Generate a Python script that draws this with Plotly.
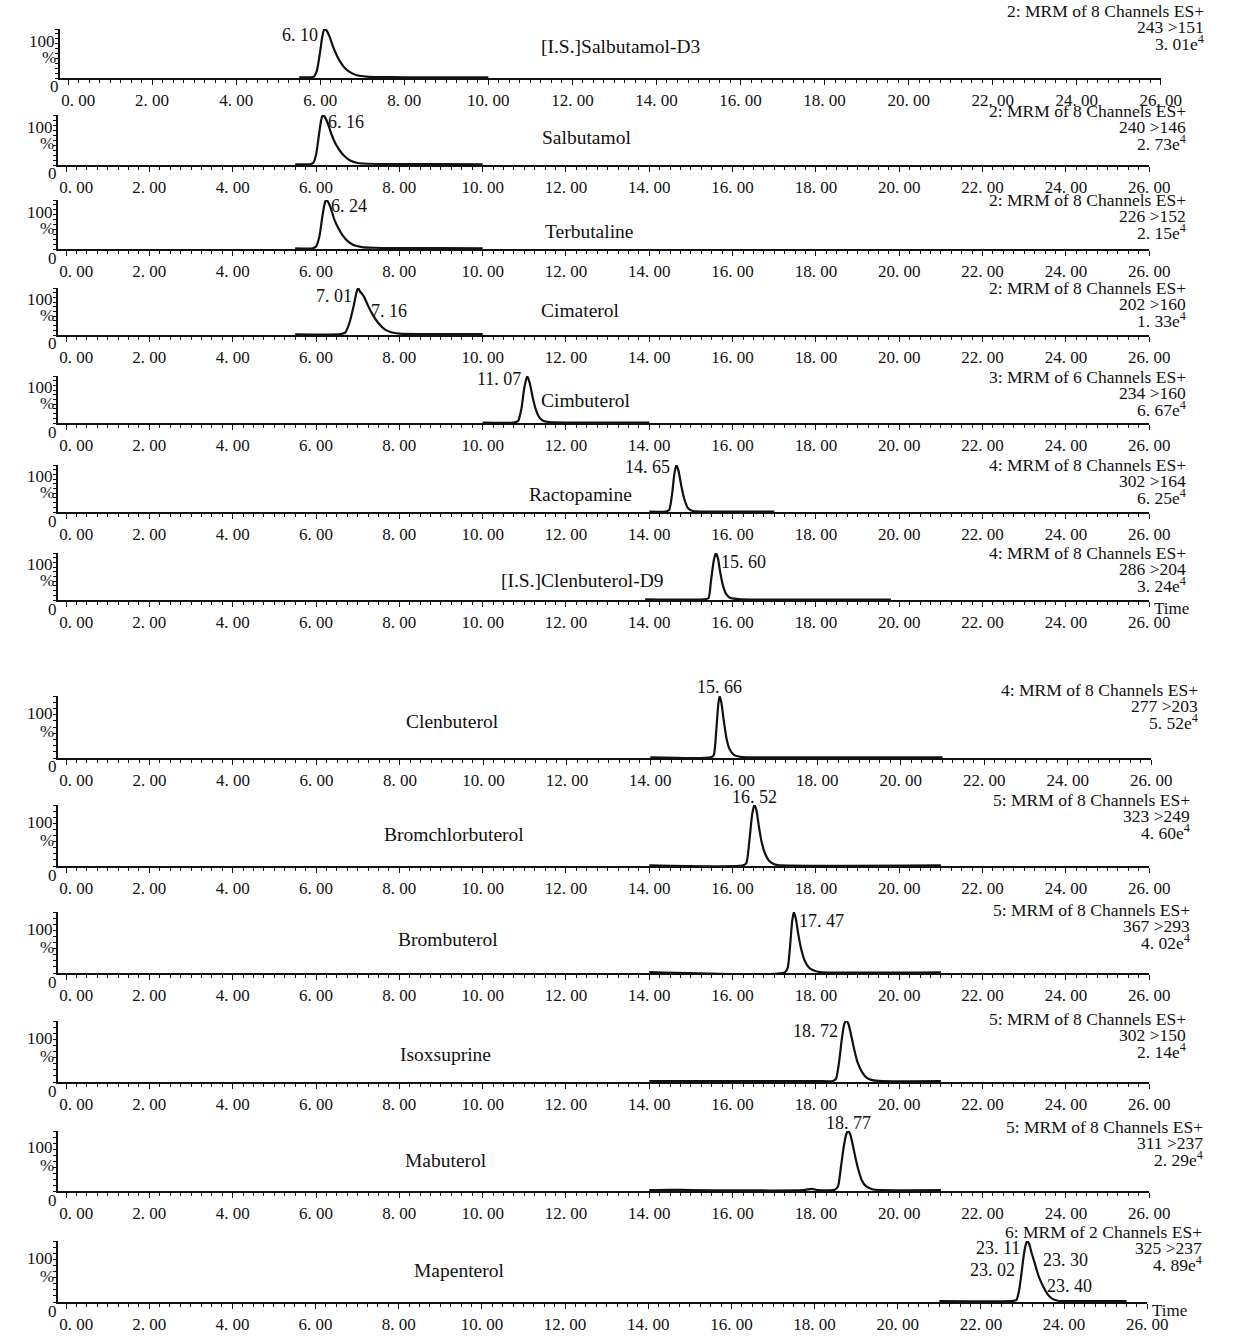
import plotly.graph_objects as go

# ---------------- data ----------------
panel_names = ["[I.S.]Salbutamol-D3", "Salbutamol", "Terbutaline", "Cimaterol", "Cimbuterol",
               "Ractopamine", "[I.S.]Clenbuterol-D9", "Clenbuterol", "Bromchlorbuterol",
               "Brombuterol", "Isoxsuprine", "Mabuterol", "Mapenterol"]
mrm_functions = ["2: MRM of 8 Channels ES+", "2: MRM of 8 Channels ES+", "2: MRM of 8 Channels ES+",
                 "2: MRM of 8 Channels ES+", "3: MRM of 6 Channels ES+", "4: MRM of 8 Channels ES+",
                 "4: MRM of 8 Channels ES+", "4: MRM of 8 Channels ES+", "5: MRM of 8 Channels ES+",
                 "5: MRM of 8 Channels ES+", "5: MRM of 8 Channels ES+", "5: MRM of 8 Channels ES+",
                 "6: MRM of 2 Channels ES+"]
transitions = ["243 >151", "240 >146", "226 >152", "202 >160", "234 >160", "302 >164", "286 >204",
               "277 >203", "323 >249", "367 >293", "302 >150", "311 >237", "325 >237"]
max_intensity = [3.01, 2.73, 2.15, 1.33, 6.67, 6.25, 3.24, 5.52, 4.60, 4.02, 2.14, 2.29, 4.89]

x_ticks = [0, 2, 4, 6, 8, 10, 12, 14, 16, 18, 20, 22, 24, 26]

p1_t = [5.5, 5.75, 5.85, 5.92, 6.0, 6.05, 6.10, 6.15, 6.22, 6.3, 6.4, 6.5, 6.6, 6.75, 6.9, 7.1, 7.4, 8.0, 9.0, 10.0]
p1_y = [1.5, 1.5, 3, 15, 55, 85, 100, 97, 85, 65, 45, 30, 19, 10, 5, 3, 2, 1.5, 1.5, 1.5]
p2_t = [5.5, 5.85, 5.93, 6.0, 6.07, 6.12, 6.16, 6.21, 6.28, 6.36, 6.46, 6.56, 6.68, 6.82, 7.0, 7.25, 8.0, 9.0, 10.0]
p2_y = [1.5, 1.5, 4, 20, 60, 88, 100, 96, 84, 64, 44, 30, 18, 9, 4, 2.5, 2, 2, 1.5]
p3_t = [5.5, 5.92, 6.0, 6.08, 6.15, 6.2, 6.24, 6.29, 6.36, 6.44, 6.54, 6.64, 6.76, 6.9, 7.1, 7.4, 8.0, 9.0, 10.0]
p3_y = [1.5, 1.5, 5, 25, 65, 90, 100, 96, 82, 60, 42, 28, 16, 8, 4, 2.5, 2, 2, 1.5]
p4_t = [5.5, 6.6, 6.7, 6.8, 6.9, 6.97, 7.01, 7.06, 7.1, 7.16, 7.25, 7.35, 7.5, 7.65, 7.8, 8.0, 8.5, 9.5, 10.0]
p4_y = [1.5, 2, 5, 25, 60, 90, 100, 92, 88, 80, 62, 45, 25, 12, 6, 3, 2, 2, 2]
p5_t = [10.0, 10.75, 10.85, 10.93, 11.0, 11.07, 11.13, 11.2, 11.28, 11.36, 11.45, 11.6, 12.0, 14.0]
p5_y = [1, 1, 4, 30, 75, 100, 85, 55, 28, 12, 5, 2, 1, 1]
p6_t = [14.0, 14.4, 14.48, 14.55, 14.6, 14.65, 14.7, 14.77, 14.85, 14.93, 15.05, 15.5, 17.0]
p6_y = [1, 1, 5, 40, 80, 100, 88, 55, 25, 8, 2, 1, 1]
p7_t = [13.9, 15.3, 15.42, 15.48, 15.55, 15.6, 15.65, 15.7, 15.77, 15.85, 15.95, 16.2, 19.8]
p7_y = [1.5, 1.5, 4, 40, 85, 100, 88, 60, 30, 12, 4, 1.5, 1]
p8_t = [14.0, 15.45, 15.52, 15.58, 15.63, 15.66, 15.7, 15.76, 15.83, 15.9, 16.0, 16.15, 16.5, 21.0]
p8_y = [1, 1, 5, 45, 88, 100, 90, 60, 30, 14, 5, 2, 1, 1]
p9_t = [14.0, 16.25, 16.33, 16.4, 16.47, 16.52, 16.57, 16.63, 16.7, 16.78, 16.87, 17.0, 17.2, 21.0]
p9_y = [1, 1, 5, 40, 85, 100, 92, 65, 38, 20, 9, 3, 1, 1]
p10_t = [14.0, 17.25, 17.32, 17.38, 17.43, 17.47, 17.52, 17.58, 17.65, 17.73, 17.83, 17.95, 18.1, 21.0]
p10_y = [1.5, 1, 8, 45, 85, 100, 88, 62, 38, 20, 9, 4, 1.5, 1]
p11_t = [14.0, 18.0, 18.4, 18.48, 18.55, 18.62, 18.68, 18.73, 18.78, 18.85, 18.93, 19.0, 19.1, 19.2, 19.35, 19.6, 21.0]
p11_y = [1.5, 1.5, 1.5, 5, 30, 70, 95, 100, 95, 75, 50, 32, 17, 8, 3, 1.5, 1.5]
p12_t = [14.0, 14.5, 15.0, 17.7, 17.9, 18.05, 18.45, 18.53, 18.6, 18.67, 18.73, 18.77, 18.82, 18.88, 18.95, 19.02, 19.1, 19.2, 19.35, 19.6, 21.0]
p12_y = [1.5, 2, 1.5, 1.5, 3.5, 1.5, 2, 8, 40, 75, 95, 100, 95, 78, 55, 35, 18, 8, 3, 1.5, 1.5]
p13_t = [21.0, 22.7, 22.85, 22.92, 22.98, 23.02, 23.07, 23.11, 23.16, 23.22, 23.30, 23.36, 23.40, 23.5, 23.6, 23.7, 23.85, 24.2, 25.5]
p13_y = [1.5, 1.5, 3, 20, 50, 72, 92, 100, 95, 80, 62, 48, 40, 25, 13, 6, 2, 1.5, 1.5]

traces_t = [p1_t, p2_t, p3_t, p4_t, p5_t, p6_t, p7_t, p8_t, p9_t, p10_t, p11_t, p12_t, p13_t]
traces_y = [p1_y, p2_y, p3_y, p4_y, p5_y, p6_y, p7_y, p8_y, p9_y, p10_y, p11_y, p12_y, p13_y]

# peak labels: (panel index, retention time, intensity at label point)
peak_label_panel = [0, 1, 2, 3, 3, 4, 5, 6, 7, 8, 9, 10, 11, 12, 12, 12, 12]
peak_label_time = [6.10, 6.16, 6.24, 7.01, 7.16, 11.07, 14.65, 15.60, 15.66, 16.52, 17.47, 18.72, 18.77, 23.11, 23.02, 23.30, 23.40]
peak_label_int = [100, 100, 100, 100, 80, 100, 100, 100, 100, 100, 100, 100, 100, 100, 72, 62, 40]

# ---------------- layout geometry (pixels) ----------------
W, H = 1237, 1338


def fx(px):
    return px / W


def fy(py):
    return 1 - py / H


base_px = [78, 165, 249, 335, 423, 512, 600, 758, 866, 973, 1082, 1191, 1302]
top_px = [29, 115, 200, 288, 376, 465, 553, 696, 805, 912, 1021, 1131, 1241]
x_left = [42, 40, 40, 40, 40, 40, 40, 40, 40, 40, 40, 40, 40]
x_right = [1180, 1168, 1168, 1168, 1168, 1168, 1168, 1170, 1168, 1168, 1168, 1168, 1166]
name_pos = [(622, 46), (586, 138), (590, 232), (580, 310), (585, 401), (580, 494), (582, 580),
            (448, 721), (450, 834), (443, 940), (441, 1054), (441, 1160), (455, 1270)]
right_edge = [1227, 1208, 1208, 1208, 1208, 1208, 1208, 1220, 1212, 1212, 1208, 1226, 1225]
mrm_y = [11, 111, 200, 288, 377, 465, 553, 690, 800, 910, 1019, 1127, 1232]
# label style: (xanchor, yanchor, xshift, yshift)
peak_label_style = [("right", "middle", -4, -6), ("left", "middle", 3, -7), ("left", "middle", 3, -6),
                    ("right", "middle", -4, -8), ("left", "middle", 5, -14), ("right", "middle", -4, -3),
                    ("right", "middle", -4, -2), ("left", "middle", 3, -9), ("center", "middle", 0, 9),
                    ("center", "middle", 0, 8), ("left", "middle", 3, -9), ("right", "middle", -6, -10),
                    ("center", "middle", 0, 8), ("right", "middle", -5, -7), ("right", "middle", -6, -12),
                    ("left", "middle", 6, 4), ("left", "middle", 6, -8)]

SERIF = "Liberation Serif, Times New Roman, serif"
INK = "#111111"

fig = go.Figure()
annotations = []
layout = {}


def fmt(v):
    return f"{v:.2f}".replace(".", ". ")


tick_text = [fmt(v) for v in x_ticks]
tick_text[0] = "\u2002\u2002\u2009" + tick_text[0]

for i in range(13):
    k = i + 1
    xa = "x" if k == 1 else f"x{k}"
    ya = "y" if k == 1 else f"y{k}"
    fig.add_trace(go.Scatter(x=traces_t[i], y=traces_y[i], mode="lines", xaxis=xa, yaxis=ya,
                             line=dict(color=INK, width=2.2, shape="spline", smoothing=0.6),
                             hoverinfo="skip", showlegend=False))
    ydom = [fy(base_px[i]), fy(top_px[i])]
    xdom = [fx(x_left[i]), fx(x_right[i])]
    layout["xaxis" if k == 1 else f"xaxis{k}"] = dict(
        domain=xdom, anchor=ya, range=[-0.2, 26.0], showgrid=False, zeroline=False,
        showline=True, linecolor=INK, linewidth=1.6, ticks="outside", ticklen=5, tickwidth=1.3,
        tickcolor=INK, tickvals=x_ticks, ticktext=tick_text,
        ticklabelstandoff=1, tickfont=dict(family=SERIF, size=17, color=INK),
        minor=dict(dtick=0.25, tick0=0, ticks="outside", ticklen=3, tickwidth=1, tickcolor=INK),
        fixedrange=True)
    layout["yaxis" if k == 1 else f"yaxis{k}"] = dict(
        domain=ydom, anchor=xa, range=[0, 100], showgrid=False, zeroline=False,
        showline=True, linecolor=INK, linewidth=1.6, ticks="outside", ticklen=3, tickwidth=1,
        tickcolor=INK, tickvals=list(range(0, 101, 10)), showticklabels=False, fixedrange=True)

    ph = base_px[i] - top_px[i]
    frac100 = 0.25 if i < 7 else 0.28
    lx = x_left[i]
    annotations.append(dict(text="100", xref="paper", yref="paper", x=fx(lx - 3),
                            y=fy(top_px[i] + frac100 * ph), xanchor="right", yanchor="middle",
                            showarrow=False, font=dict(family=SERIF, size=17, color=INK)))
    annotations.append(dict(text="%", xref="paper", yref="paper", x=fx(lx - 11),
                            y=fy(top_px[i] + 0.58 * ph), xanchor="center", yanchor="middle",
                            showarrow=False, font=dict(family=SERIF, size=17, color=INK)))
    annotations.append(dict(text="0", xref="paper", yref="paper", x=fx(lx - 5),
                            y=fy(base_px[i] + 9), xanchor="center", yanchor="middle",
                            showarrow=False, font=dict(family=SERIF, size=17, color=INK)))
    # compound name
    nx, ny = name_pos[i]
    annotations.append(dict(text=panel_names[i], xref="paper", yref="paper", x=fx(nx), y=fy(ny),
                            xanchor="center", yanchor="middle", showarrow=False,
                            font=dict(family=SERIF, size=19.5, color=INK)))
    # right-side header
    lines = [mrm_functions[i], transitions[i], fmt(max_intensity[i]) + "e<sup>4</sup>"]
    for j, txt in enumerate(lines):
        annotations.append(dict(text=txt, xref="paper", yref="paper", x=fx(right_edge[i]),
                                y=fy(mrm_y[i] + 16 * j), xanchor="right", yanchor="middle",
                                showarrow=False, font=dict(family=SERIF, size=17.5, color=INK)))

for n in range(len(peak_label_time)):
    i = peak_label_panel[n]
    k = i + 1
    xa = "x" if k == 1 else f"x{k}"
    ya = "y" if k == 1 else f"y{k}"
    xan, yan, xs, ys = peak_label_style[n]
    annotations.append(dict(text=fmt(peak_label_time[n]), xref=xa, yref=ya, x=peak_label_time[n],
                            y=peak_label_int[n], xanchor=xan, yanchor=yan, xshift=xs, yshift=ys,
                            showarrow=False, font=dict(family=SERIF, size=18, color=INK)))

for i in (6, 12):
    annotations.append(dict(text="Time", xref="paper", yref="paper", x=fx(x_right[i] + 3),
                            y=fy(base_px[i] + 8), xanchor="left", yanchor="middle",
                            showarrow=False, font=dict(family=SERIF, size=17, color=INK)))

fig.update_layout(width=W, height=H, margin=dict(l=0, r=0, t=0, b=0),
                  paper_bgcolor="white", plot_bgcolor="white", annotations=annotations, **layout)

# remove the browser's default page margin so the figure fills the window exactly
fig.write_html("out.html", config={"displayModeBar": False},
               post_script="document.body.style.margin='0px';document.body.style.overflow='hidden';")
